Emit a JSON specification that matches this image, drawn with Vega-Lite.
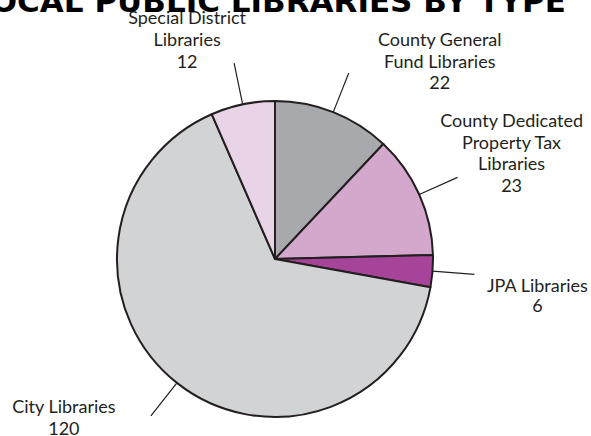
{
  "$schema": "https://vega.github.io/schema/vega-lite/v6.json",
  "width": 550,
  "height": 354,
  "padding": {"left": 0, "top": 82, "right": 41, "bottom": 0},
  "autosize": {"type": "none"},
  "background": "white",
  "config": {"view": {"stroke": null}},
  "title": {
    "text": "LOCAL PUBLIC LIBRARIES BY TYPE",
    "font": "DejaVu Sans",
    "fontSize": 31,
    "fontWeight": "bold",
    "color": "#000000",
    "baseline": "alphabetic",
    "anchor": "middle",
    "frame": "group",
    "offset": -33,
    "dx": -6
  },
  "data": {
    "values": [
      {"i": 1, "type": "County General Fund Libraries", "label": "County General\nFund Libraries", "count": 22},
      {"i": 2, "type": "County Dedicated Property Tax Libraries", "label": "County Dedicated\nProperty Tax\nLibraries", "count": 23},
      {"i": 3, "type": "JPA Libraries", "label": "JPA Libraries", "count": 6},
      {"i": 4, "type": "City Libraries", "label": "City Libraries", "count": 120},
      {"i": 5, "type": "Special District Libraries", "label": "Special District\nLibraries", "count": 12}
    ]
  },
  "transform": [
    {"stack": "count", "groupby": [], "sort": [{"field": "i", "order": "ascending"}], "as": ["s0", "s1"]},
    {"calculate": "(datum.s0 + datum.s1) / 2", "as": "mid"},
    {"calculate": "datum.label + '\\n' + datum.count", "as": "text"}
  ],
  "layer": [
    {
      "mark": {"type": "arc", "radius": 158, "stroke": "#231f20", "strokeWidth": 2, "strokeJoin": "round"},
      "encoding": {
        "theta": {"field": "count", "type": "quantitative", "stack": true},
        "order": {"field": "i", "type": "quantitative", "sort": "ascending"},
        "color": {
          "field": "type",
          "type": "nominal",
          "legend": null,
          "scale": {
            "domain": ["County General Fund Libraries", "County Dedicated Property Tax Libraries", "JPA Libraries", "City Libraries", "Special District Libraries"],
            "range": ["#a7a9ac", "#d4a8cc", "#a54499", "#d1d3d4", "#e8d3e7"]
          }
        }
      }
    },
    {
      "mark": {"type": "arc", "radius": 200, "radius2": 158, "stroke": "#231f20", "strokeWidth": 1.2, "fillOpacity": 0},
      "encoding": {
        "theta": {"field": "mid", "type": "quantitative", "stack": null},
        "theta2": {"field": "mid"}
      }
    },
    {
      "transform": [{"filter": "datum.i == 1"}],
      "mark": {"type": "text", "radius": 200, "dx": 91, "dy": -27, "align": "center", "baseline": "alphabetic", "lineBreak": "\n", "lineHeight": 21.5, "font": "Lato", "fontSize": 18, "color": "#231f20"},
      "encoding": {"theta": {"field": "mid", "type": "quantitative", "stack": null}, "text": {"field": "text"}}
    },
    {
      "transform": [{"filter": "datum.i == 2"}],
      "mark": {"type": "text", "radius": 200, "dx": 54, "dy": -50, "align": "center", "baseline": "alphabetic", "lineBreak": "\n", "lineHeight": 21.5, "font": "Lato", "fontSize": 18, "color": "#231f20"},
      "encoding": {"theta": {"field": "mid", "type": "quantitative", "stack": null}, "text": {"field": "text"}}
    },
    {
      "transform": [{"filter": "datum.i == 3"}],
      "mark": {"type": "text", "radius": 200, "dx": 63, "dy": 18, "align": "center", "baseline": "alphabetic", "lineBreak": "\n", "lineHeight": 20, "font": "Lato", "fontSize": 18, "color": "#231f20"},
      "encoding": {"theta": {"field": "mid", "type": "quantitative", "stack": null}, "text": {"field": "text"}}
    },
    {
      "transform": [{"filter": "datum.i == 4"}],
      "mark": {"type": "text", "radius": 200, "dx": -87, "dy": -3, "align": "center", "baseline": "alphabetic", "lineBreak": "\n", "lineHeight": 22, "font": "Lato", "fontSize": 18, "color": "#231f20"},
      "encoding": {"theta": {"field": "mid", "type": "quantitative", "stack": null}, "text": {"field": "text"}}
    },
    {
      "transform": [{"filter": "datum.i == 5"}],
      "mark": {"type": "text", "radius": 200, "dx": -47, "dy": -39, "align": "center", "baseline": "alphabetic", "lineBreak": "\n", "lineHeight": 22, "font": "Lato", "fontSize": 18, "color": "#231f20"},
      "encoding": {"theta": {"field": "mid", "type": "quantitative", "stack": null}, "text": {"field": "text"}}
    }
  ]
}
